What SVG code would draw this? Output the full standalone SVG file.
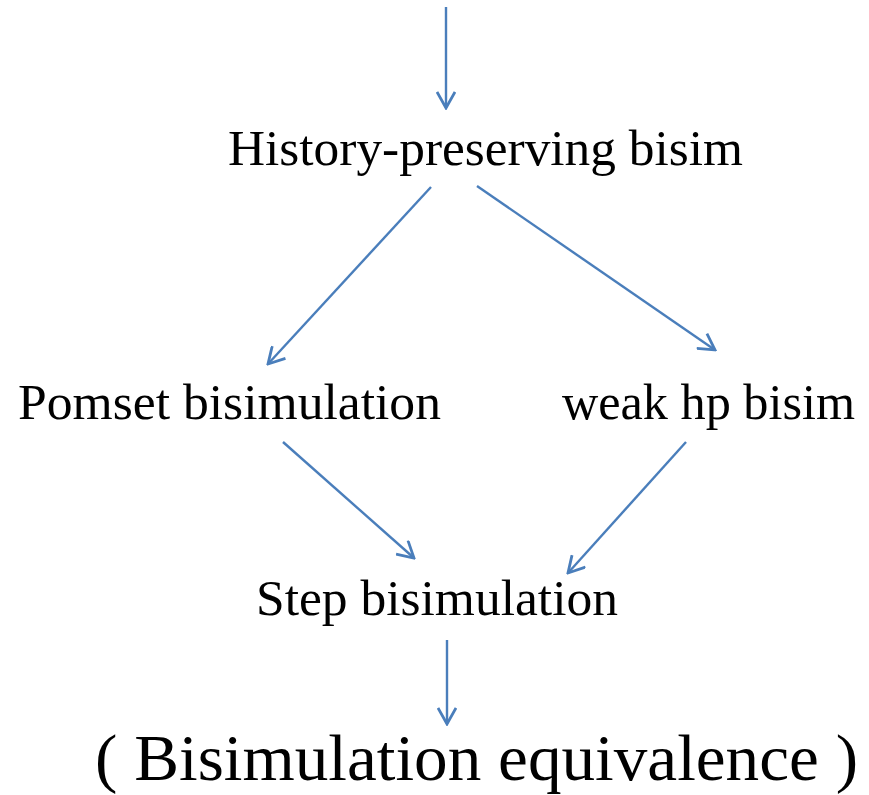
<svg xmlns="http://www.w3.org/2000/svg" width="869" height="795" viewBox="0 0 869 795">
  <style>
    .lbl { font-family: "Liberation Serif", "DejaVu Serif", serif; font-size: 50px; fill: #000; }
    .big { font-family: "Liberation Serif", "DejaVu Serif", serif; font-size: 66px; fill: #000; }
    .edge { stroke: #4a7ebb; stroke-width: 2.4; fill: none; marker-end: url(#head); }
  </style>
  <defs>
    <marker id="head" markerUnits="userSpaceOnUse" viewBox="0 0 20 20" refX="18" refY="10" markerWidth="20" markerHeight="20" orient="auto">
      <path d="M2,1 L18,10 L2,19" fill="none" stroke="#4a7ebb" stroke-width="2.8" stroke-linejoin="miter"/>
    </marker>
  </defs>
  <rect width="869" height="795" fill="#fff"/>

  <g id="connectors">
    <line class="edge" x1="446" y1="7" x2="446" y2="108"/>
    <line class="edge" x1="431" y1="187" x2="268" y2="364"/>
    <line class="edge" x1="477" y1="186" x2="715" y2="350"/>
    <line class="edge" x1="283" y1="442" x2="414" y2="558"/>
    <line class="edge" x1="686" y1="442" x2="568" y2="573"/>
    <line class="edge" x1="447" y1="640" x2="447" y2="724"/>
  </g>

  <g id="history-preserving">
    <text class="lbl" x="228" y="165" textLength="515" lengthAdjust="spacingAndGlyphs">History-preserving bisim</text>
  </g>
  <g id="pomset">
    <text class="lbl" x="18" y="419" textLength="423" lengthAdjust="spacingAndGlyphs">Pomset bisimulation</text>
  </g>
  <g id="weak-hp">
    <text class="lbl" x="562" y="419" textLength="293" lengthAdjust="spacingAndGlyphs">weak hp bisim</text>
  </g>
  <g id="step">
    <text class="lbl" x="256" y="615" textLength="362" lengthAdjust="spacingAndGlyphs">Step bisimulation</text>
  </g>
  <g id="bisimulation-equivalence">
    <text class="big" x="95" y="780" textLength="763" lengthAdjust="spacingAndGlyphs">( Bisimulation equivalence )</text>
  </g>
</svg>
